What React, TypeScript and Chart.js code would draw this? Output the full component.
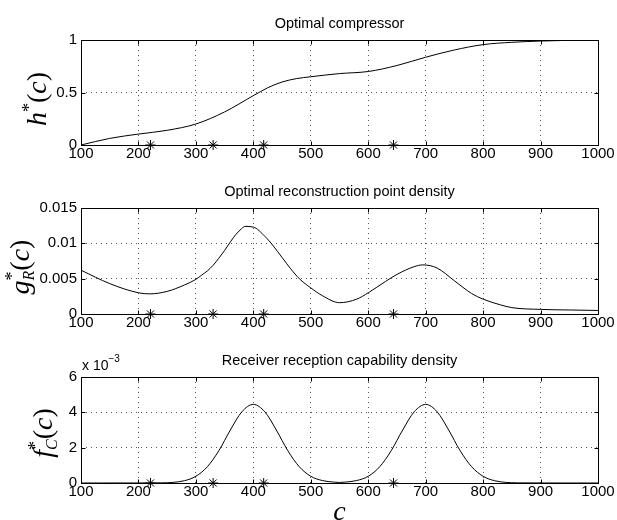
import React, { useEffect, useRef } from 'react';
import { Chart, registerables } from 'chart.js';
Chart.register(...registerables);

// ---------- data ----------
const xTickValues = [100, 200, 300, 400, 500, 600, 700, 800, 900, 1000];

const hC = [100, 150, 200, 250, 300, 350, 400, 425, 450, 475, 500, 550, 600, 650, 700, 750, 800, 850, 900, 950, 1000];
const hVal = [0, 0.063, 0.104, 0.14, 0.2, 0.315, 0.47, 0.545, 0.6, 0.632, 0.65, 0.68, 0.7, 0.757, 0.836, 0.905, 0.956, 0.978, 0.99, 0.997, 1.0];

const gC = [100, 150, 200, 220, 250, 280, 300, 310, 320, 330, 340, 350, 360, 370, 380, 385, 400, 420, 435, 450, 465, 480, 500, 520, 550, 580, 600, 630, 650, 680, 695, 720, 750, 780, 800, 830, 850, 900, 950, 1000];
const gVal = [0.0062, 0.0043, 0.003, 0.00285, 0.0032, 0.0041, 0.0049, 0.0055, 0.0061, 0.0069, 0.0079, 0.009, 0.0102, 0.0113, 0.0121, 0.0124, 0.0123, 0.011, 0.0096, 0.008, 0.0064, 0.005, 0.0037, 0.0026, 0.0016, 0.0021, 0.003, 0.0046, 0.0056, 0.0067, 0.00695, 0.0065, 0.0047, 0.0029, 0.0021, 0.0013, 0.0009, 0.00065, 0.00057, 0.0005];

const fC = [100, 200, 240, 260, 280, 300, 320, 340, 360, 380, 400, 420, 440, 460, 480, 500, 520, 540, 550, 560, 580, 600, 620, 640, 660, 680, 700, 720, 740, 760, 780, 800, 820, 840, 860, 900, 1000];
const fVal = [0, 0.000002, 0.000008, 0.000035, 0.00013, 0.00038, 0.00092, 0.00183, 0.003, 0.00403, 0.00445, 0.00403, 0.003, 0.00183, 0.00092, 0.00038, 0.00014, 0.00005, 0.00003, 0.00005, 0.00014, 0.00038, 0.00092, 0.00183, 0.003, 0.00403, 0.00445, 0.00403, 0.003, 0.00183, 0.00092, 0.00038, 0.00013, 0.000035, 0.000008, 0.000001, 0];

const starC = [221, 330, 418, 644];
const starVal = [0, 0, 0, 0];

const titles = ['Optimal compressor', 'Optimal reconstruction point density', 'Receiver reception capability density'];

// ---------- helpers ----------
type Piece = { t: string; italic?: boolean; size: number; dy?: number; adv?: boolean };

const SERIF = '"Liberation Serif", "Times New Roman", serif';
const SANS = '"Liberation Sans", Arial, Helvetica, sans-serif';
const TICK_SIZE = 15;

function drawPieces(ctx: CanvasRenderingContext2D, pieces: Piece[], cx: number, baseline: number) {
  let total = 0;
  for (const p of pieces) {
    ctx.font = `${p.italic ? 'italic ' : ''}${p.size}px ${SERIF}`;
    if (p.adv !== false) total += ctx.measureText(p.t).width;
  }
  let x = cx - total / 2;
  for (const p of pieces) {
    ctx.font = `${p.italic ? 'italic ' : ''}${p.size}px ${SERIF}`;
    ctx.fillText(p.t, x, baseline + (p.dy || 0));
    if (p.adv !== false) x += ctx.measureText(p.t).width;
  }
}

type Spec = {
  key: string;
  top: number;
  height: number;
  padTop: number;
  padBottom: number;
  xs: number[];
  ys: number[];
  yMax: number;
  yStep: number;
  fmt: (v: number) => string;
  title: string;
  label: Piece[];
  labelX: number;
  labelY: number;
  extra?: (ctx: CanvasRenderingContext2D, a: any) => void;
};

const specs: Spec[] = [
  {
    key: 'h', top: 0, height: 173, padTop: 40, padBottom: 3,
    xs: hC, ys: hVal, yMax: 1, yStep: 0.5,
    fmt: (v) => String(parseFloat(v.toFixed(3))),
    title: titles[0],
    label: [
      { t: 'h', italic: true, size: 28 },
      { t: '*', size: 18, dy: -11 },
      { t: '(', size: 28 },
      { t: 'c', italic: true, size: 28 },
      { t: ')', size: 28 },
    ],
    labelX: 46, labelY: 99,
  },
  {
    key: 'g', top: 173, height: 170, padTop: 35, padBottom: 4,
    xs: gC, ys: gVal, yMax: 0.015, yStep: 0.005,
    fmt: (v) => String(parseFloat(v.toFixed(4))),
    title: titles[1],
    label: [
      { t: 'g', italic: true, size: 28 },
      { t: '*', size: 18, dy: -11, adv: false },
      { t: 'R', italic: true, size: 16, dy: 5 },
      { t: '(', size: 28 },
      { t: 'c', italic: true, size: 28 },
      { t: ')', size: 28 },
    ],
    labelX: 29, labelY: 94,
  },
  {
    key: 'f', top: 343, height: 177, padTop: 34, padBottom: 12,
    xs: fC, ys: fVal, yMax: 0.006, yStep: 0.002,
    fmt: (v) => String(Math.round(v * 1000)),
    title: titles[2],
    label: [
      { t: 'f', italic: true, size: 28 },
      { t: '*', size: 18, dy: -11, adv: false },
      { t: 'C', italic: true, size: 16, dy: 5 },
      { t: '(', size: 28 },
      { t: 'c', italic: true, size: 28 },
      { t: ')', size: 28 },
    ],
    labelX: 52, labelY: 90,
    extra: (ctx, a) => {
      ctx.textAlign = 'left';
      ctx.textBaseline = 'alphabetic';
      ctx.font = `14px ${SANS}`;
      const base = 'x 10';
      ctx.fillText(base, a.left + 1, 27);
      const w = ctx.measureText(base).width;
      ctx.font = `10px ${SANS}`;
      ctx.fillText('\u22123', a.left + 1 + w, 19);
      ctx.textAlign = 'center';
      ctx.font = `italic 28px ${SERIF}`;
      ctx.fillText('c', (a.left + a.right) / 2, 177);
    },
  },
];

function makePlugin(s: Spec) {
  return {
    id: 'frame_' + s.key,
    afterDraw(chart: any) {
      const { ctx, chartArea: a, scales } = chart;
      ctx.save();
      ctx.strokeStyle = '#000';
      ctx.lineWidth = 1;
      const L = Math.round(a.left) + 0.5, T = Math.round(a.top) + 0.5;
      const R = Math.round(a.right) + 0.5, B = Math.round(a.bottom) + 0.5;
      ctx.strokeRect(L, T, R - L, B - T);
      ctx.beginPath();
      for (const v of xTickValues) {
        const px = Math.round(scales.x.getPixelForValue(v)) + 0.5;
        ctx.moveTo(px, T); ctx.lineTo(px, T + 4);
        ctx.moveTo(px, B); ctx.lineTo(px, B - 4);
      }
      for (const t of scales.y.ticks) {
        const py = Math.round(scales.y.getPixelForValue(t.value)) + 0.5;
        ctx.moveTo(L, py); ctx.lineTo(L + 4, py);
        ctx.moveTo(R, py); ctx.lineTo(R - 4, py);
      }
      ctx.stroke();
      ctx.fillStyle = '#000';
      ctx.font = `14.5px ${SANS}`;
      ctx.textAlign = 'center';
      ctx.textBaseline = 'middle';
      ctx.fillText(s.title, (a.left + a.right) / 2, a.top - 16);
      ctx.save();
      ctx.translate(s.labelX, s.labelY);
      ctx.rotate(-Math.PI / 2);
      ctx.textAlign = 'left';
      ctx.textBaseline = 'alphabetic';
      drawPieces(ctx, s.label, 0, 0);
      ctx.restore();
      if (s.extra) s.extra(ctx, a);
      ctx.restore();
    },
  };
}

function Panel({ s }: { s: Spec }) {
  const ref = useRef<HTMLCanvasElement>(null);
  useEffect(() => {
    const chart = new Chart(ref.current as HTMLCanvasElement, {
      type: 'line',
      data: {
        datasets: [
          {
            data: s.xs.map((x, i) => ({ x, y: s.ys[i] })),
            borderColor: '#000',
            borderWidth: 1,
            pointRadius: 0,
            fill: false,
            cubicInterpolationMode: 'monotone',
          },
          {
            data: starC.map((x, i) => ({ x, y: starVal[i] })),
            showLine: false,
            pointStyle: 'star',
            pointRadius: 5,
            pointBorderColor: '#000',
            pointBackgroundColor: '#000',
            pointBorderWidth: 1,
            clip: false,
          } as any,
        ],
      },
      options: {
        animation: false,
        responsive: false,
        maintainAspectRatio: false,
        layout: { padding: { left: 0, right: 19, top: s.padTop, bottom: s.padBottom } },
        plugins: { legend: { display: false }, tooltip: { enabled: false }, title: { display: false } },
        scales: {
          x: {
            type: 'linear',
            min: 100,
            max: 1000,
            ticks: {
              stepSize: 100,
              autoSkip: false,
              maxRotation: 0,
              padding: 0,
              color: '#000',
              font: { family: SANS, size: TICK_SIZE },
              callback: (v: any) => String(v),
            },
            grid: { color: '#555', lineWidth: 1, drawTicks: false },
            border: { display: false, dash: [1, 4] },
            afterFit: (sc: any) => { sc.height = 25; },
          },
          y: {
            type: 'linear',
            min: 0,
            max: s.yMax,
            ticks: {
              stepSize: s.yStep,
              padding: 4,
              color: '#000',
              font: { family: SANS, size: TICK_SIZE },
              callback: (v: any) => s.fmt(Number(v)),
            },
            grid: { color: '#555', lineWidth: 1, drawTicks: false },
            border: { display: false, dash: [1, 4] },
            afterFit: (sc: any) => { sc.width = 81; },
          },
        },
      } as any,
      plugins: [makePlugin(s)],
    });
    return () => chart.destroy();
  }, []);
  return (
    <div style={{ position: 'absolute', left: 0, top: s.top, width: 617, height: s.height }}>
      <canvas ref={ref} width={617} height={s.height} style={{ display: 'block' }} />
    </div>
  );
}

export default function App() {
  return (
    <div style={{ position: 'absolute', left: 0, top: 0, width: 617, height: 520, background: '#fff', overflow: 'hidden' }}>
      {specs.map((s) => (
        <Panel key={s.key} s={s} />
      ))}
    </div>
  );
}
